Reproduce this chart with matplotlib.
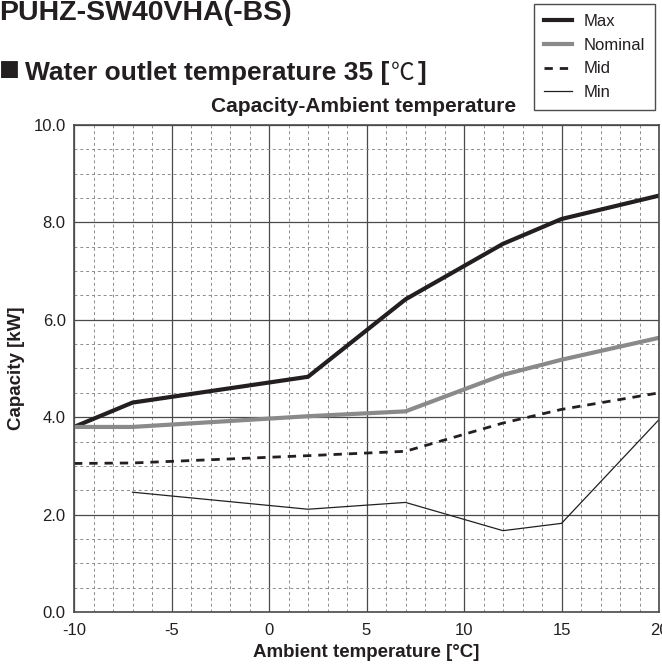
import matplotlib
matplotlib.use("Agg")
import matplotlib.pyplot as plt
import numpy as np
from matplotlib.ticker import MultipleLocator, FormatStrFormatter

plt.rcParams['font.family'] = ['Liberation Sans', 'DejaVu Sans']
plt.rcParams['axes.unicode_minus'] = False

TEXT = "#231f20"

# ambient temperature [C] and capacity [kW] for each curve
temps = [-10, -7, 2, 7, 12, 15, 20]
cap_max = [3.8, 4.3, 4.83, 6.42, 7.56, 8.07, 8.55]
cap_nominal = [3.8, 3.8, 4.02, 4.12, 4.87, 5.18, 5.63]
cap_mid = [3.05, 3.06, 3.21, 3.3, 3.88, 4.16, 4.5]
cap_min = [np.nan, 2.46, 2.11, 2.25, 1.67, 1.82, 3.95]

x_ticks = [-10, -5, 0, 5, 10, 15, 20]
y_ticks = [0, 2, 4, 6, 8, 10]

W, H = 662, 666
fig = plt.figure(figsize=(W / 100, H / 100), dpi=100)
ax = fig.add_axes([74 / W, 1 - 612 / H, 585 / W, 487 / H])

ax.plot(temps, cap_max, color=TEXT, lw=3.0, label="Max")
ax.plot(temps, cap_nominal, color="#8a8a8a", lw=3.0, label="Nominal")
ax.plot(temps, cap_mid, color=TEXT, lw=2.0, ls=(0, (3, 2.5)), label="Mid")
ax.plot(temps, cap_min, color=TEXT, lw=0.9, label="Min")

ax.set_xlim(-10, 20)
ax.set_ylim(0, 10)
ax.set_xticks(x_ticks)
ax.set_yticks(y_ticks)
ax.xaxis.set_minor_locator(MultipleLocator(1))
ax.yaxis.set_minor_locator(MultipleLocator(0.5))
ax.yaxis.set_major_formatter(FormatStrFormatter("%.1f"))
ax.grid(which="major", color="#4a4a4a", lw=0.9)
ax.grid(which="minor", color="#8c8c8c", lw=0.7, ls=(0, (3, 3)))
ax.set_axisbelow(True)
ax.tick_params(which="both", length=0, labelsize=12, colors=TEXT)
ax.tick_params(axis="y", pad=6)
ax.tick_params(axis="x", pad=8)
for s in ax.spines.values():
    s.set_color("#4a4a4a")
    s.set_linewidth(1.2)

ax.set_xlabel("Ambient temperature [°C]", fontsize=13.5, fontweight="bold", color=TEXT, labelpad=4)
ax.set_ylabel("Capacity [kW]", fontsize=13.5, fontweight="bold", color=TEXT, labelpad=6)

# headings
fig.text(-0.002, 1 - 20 / H, "PUHZ-SW40VHA(-BS)", fontsize=20.5, fontweight="bold",
         color=TEXT, va="baseline", ha="left")
fig.text(-0.002, 1 - 80 / H, "■", fontsize=25, color=TEXT, va="baseline", ha="left")
t1 = fig.text(25 / W, 1 - 80 / H, "Water outlet temperature 35 [", fontsize=19,
              fontweight="bold", color=TEXT, va="baseline", ha="left")
fig.canvas.draw()
r = fig.canvas.get_renderer()
x1 = t1.get_window_extent(r).x1
t2 = fig.text(x1 / W + 1 / W, 1 - 80 / H, "℃", fontsize=17, color=TEXT, va="baseline", ha="left",
              family=["Noto Sans CJK JP", "DejaVu Sans"])
x2 = t2.get_window_extent(r).x1
fig.text(x2 / W + 4 / W, 1 - 80 / H, "]", fontsize=19, fontweight="bold",
         color=TEXT, va="baseline", ha="left")
fig.text(364 / W, 1 - 112 / H, "Capacity-Ambient temperature", fontsize=15, fontweight="bold",
         color=TEXT, va="baseline", ha="center")

leg = fig.legend(loc="upper right", bbox_to_anchor=(655 / W, 1 - 4 / H), fontsize=12,
                 frameon=True, fancybox=False, handlelength=1.7, handletextpad=0.7,
                 labelspacing=0.52, borderpad=0.6, borderaxespad=0)
leg.get_frame().set_edgecolor(TEXT)
leg.get_frame().set_linewidth(1.0)
for t in leg.get_texts():
    t.set_color(TEXT)

fig.savefig("out.png", dpi=100)
